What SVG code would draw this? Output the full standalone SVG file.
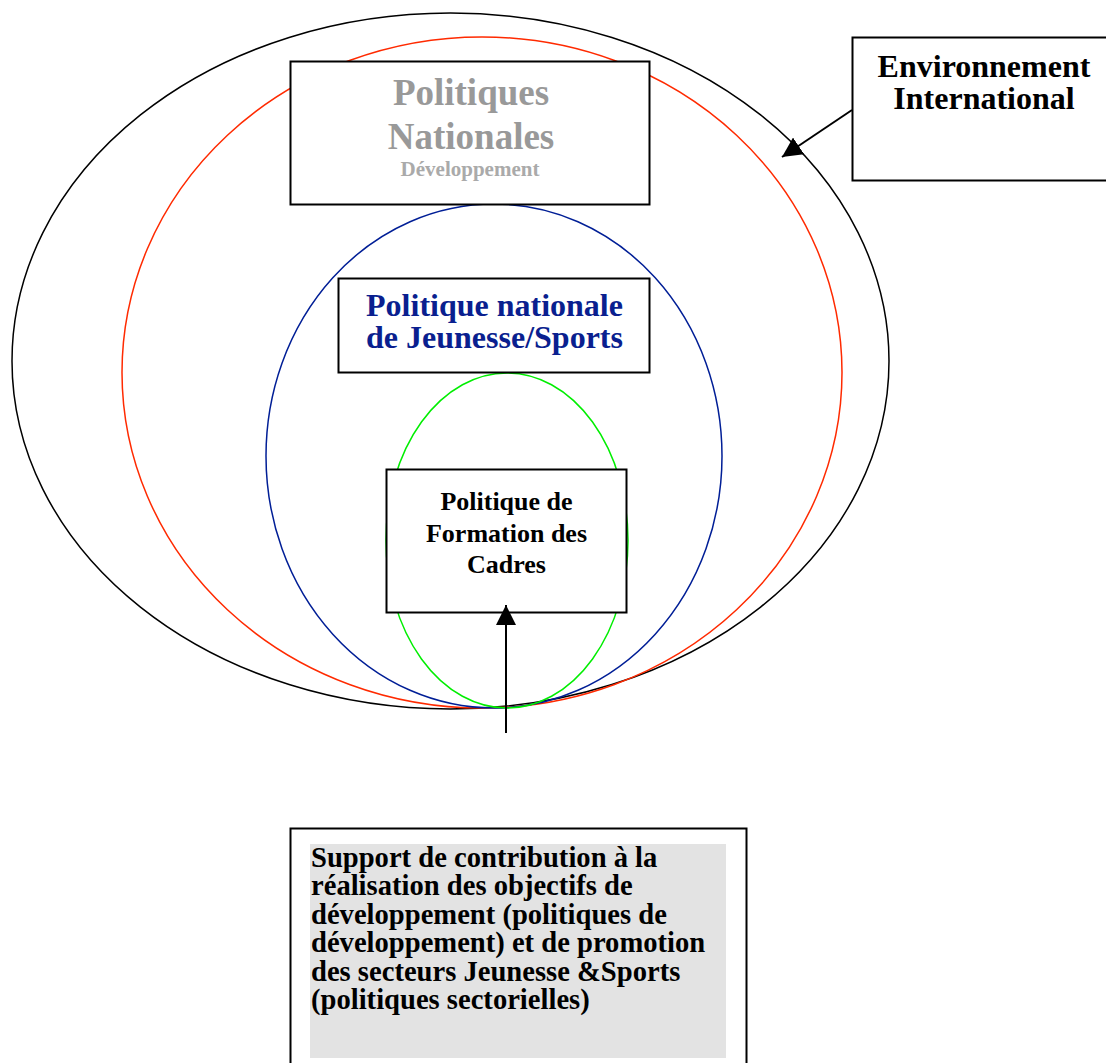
<svg xmlns="http://www.w3.org/2000/svg" width="1106" height="1063" viewBox="0 0 1106 1063">
<style>
text{font-family:"Liberation Serif","Times New Roman",serif;font-weight:bold;}
.box{fill:#fff;stroke:#000;stroke-width:2;}
.c{text-anchor:middle;}
.ell{fill:none;stroke-width:1.5;}
.s{font-size:28.6px;fill:#000;}
</style>
<defs>
<marker id="ah" viewBox="0 0 10 10" refX="10" refY="5" markerWidth="20" markerHeight="20" markerUnits="userSpaceOnUse" orient="auto">
<path d="M0,0 L10,5 L0,10 z" fill="#000"/>
</marker>
</defs>
<rect width="1106" height="1063" fill="#fff"/>
<g id="ellipses">
<ellipse cx="450.5" cy="361" rx="438.5" ry="348" class="ell" stroke="#000"/>
<ellipse cx="482" cy="372.5" rx="360" ry="335.5" class="ell" stroke="#ff2a00"/>
<ellipse cx="494" cy="456" rx="228" ry="252" class="ell" stroke="#001e96"/>
<ellipse cx="507" cy="540.5" rx="121" ry="167.5" class="ell" stroke="#00ee00"/>
</g>
<g id="node-politiques-nationales">
<rect x="290.5" y="61.5" width="359" height="143" class="box"/>
<text x="471" y="105" class="c" font-size="37" fill="#999">Politiques</text>
<text x="471" y="149" class="c" font-size="37" fill="#999">Nationales</text>
<text x="470" y="176" class="c" font-size="21" fill="#aaa">Développement</text>
</g>
<g id="node-environnement">
<rect x="852.5" y="37.5" width="260" height="143" class="box"/>
<text x="984" y="77" class="c" font-size="32" fill="#000">Environnement</text>
<text x="984" y="109" class="c" font-size="32" fill="#000">International</text>
</g>
<g id="node-jeunesse">
<rect x="338.5" y="278.5" width="311" height="94" class="box"/>
<text x="494.5" y="316" class="c" font-size="32" fill="#0a1f8f">Politique nationale</text>
<text x="494.5" y="348" class="c" font-size="32" fill="#0a1f8f">de Jeunesse/Sports</text>
</g>
<g id="node-formation">
<rect x="386.5" y="469.5" width="240" height="143" class="box"/>
<text x="506.5" y="510" class="c" font-size="26" fill="#000">Politique de</text>
<text x="506.5" y="541.5" class="c" font-size="26" fill="#000">Formation des</text>
<text x="506.5" y="573" class="c" font-size="26" fill="#000">Cadres</text>
</g>
<g id="node-support">
<rect x="290.5" y="828.5" width="456" height="250" class="box"/>
<rect x="310" y="844" width="416" height="214" fill="#e3e3e3"/>
<text x="311" y="866.5" class="s">Support de contribution à la</text>
<text x="311" y="895" class="s">réalisation des objectifs de</text>
<text x="311" y="923.5" class="s">développement (politiques de</text>
<text x="311" y="952" class="s">développement) et de promotion</text>
<text x="311" y="980.5" class="s">des secteurs Jeunesse &amp;Sports</text>
<text x="311" y="1009" class="s">(politiques sectorielles)</text>
</g>
<g id="connectors" stroke="#000" stroke-width="2" fill="none">
<line x1="852" y1="110" x2="782" y2="157" marker-end="url(#ah)"/>
<line x1="506" y1="733" x2="506" y2="605" marker-end="url(#ah)"/>
</g>
</svg>
